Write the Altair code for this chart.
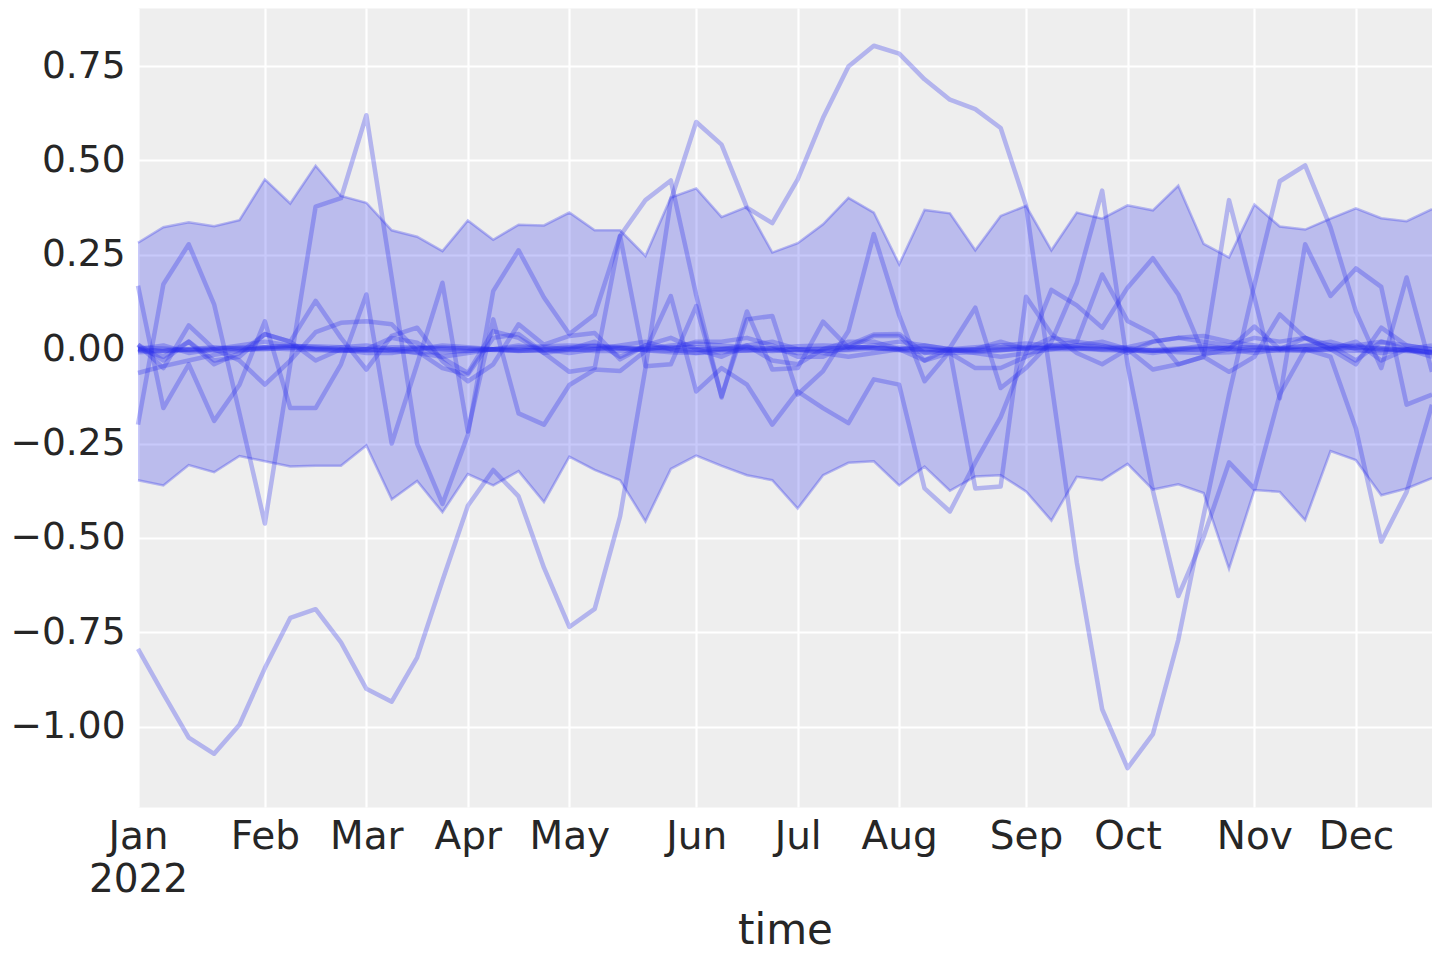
import altair as alt
import pandas as pd

# weekly time axis (Monday-stamped weeks of 2022)
WEEK_START = "2022-01-03"
N_WEEKS = 52
dates = pd.date_range(WEEK_START, periods=N_WEEKS, freq="W-MON")
DATE_STR = [d.strftime("%Y-%m-%d") for d in dates]

# HDI band
HDI_UPPER = [0.282, 0.323, 0.336, 0.326, 0.342, 0.450, 0.386, 0.486, 0.406, 0.388,
             0.315, 0.298, 0.260, 0.341, 0.290, 0.330, 0.328, 0.362, 0.315, 0.315,
             0.247, 0.402, 0.426, 0.350, 0.377, 0.256, 0.281, 0.331, 0.401, 0.362,
             0.225, 0.369, 0.360, 0.262, 0.353, 0.380, 0.262, 0.362, 0.346, 0.381,
             0.368, 0.433, 0.279, 0.243, 0.383, 0.325, 0.317, 0.346, 0.373, 0.347,
             0.339, 0.371]
HDI_LOWER = [-0.347, -0.361, -0.307, -0.326, -0.283, -0.297, -0.311, -0.309, -0.309, -0.255,
             -0.398, -0.349, -0.432, -0.331, -0.361, -0.323, -0.405, -0.285, -0.320, -0.347,
             -0.456, -0.317, -0.282, -0.309, -0.334, -0.347, -0.422, -0.334, -0.301, -0.297,
             -0.361, -0.311, -0.375, -0.337, -0.334, -0.377, -0.454, -0.338, -0.347, -0.304,
             -0.372, -0.358, -0.381, -0.582, -0.373, -0.378, -0.453, -0.270, -0.294, -0.387,
             -0.369, -0.342]

# sample lines
LINE_A = [-0.794, -0.913, -1.029, -1.072, -0.995, -0.845, -0.712, -0.689, -0.777, -0.90,
          -0.934, -0.817, -0.613, -0.415, -0.32, -0.39, -0.579, -0.736, -0.688, -0.443,
          -0.05, 0.394, 0.602, 0.542, 0.375, 0.334, 0.45, 0.613, 0.749, 0.804,
          0.783, 0.715, 0.661, 0.636, 0.586, 0.381, -0.09, -0.565, -0.954, -1.11,
          -1.02, -0.77, -0.44, -0.12, 0.17, 0.445, 0.487, 0.323, 0.10, -0.05,
          0.19, -0.06]
LINE_B = [-0.20, 0.172, 0.278, 0.119, -0.17, -0.462, -0.04, 0.378, 0.40, 0.62,
          0.19, -0.25, -0.41, -0.227, 0.154, 0.262, 0.137, 0.04, 0.092, 0.30,
          0.395, 0.447, 0.143, -0.128, 0.10, -0.054, -0.05, 0.073, 0.004, 0.035,
          0.035, -0.03, 0.004, 0.11, -0.103, -0.05, 0.02, 0.176, 0.42, -0.04,
          -0.375, -0.654, -0.497, -0.30, -0.37, -0.12, 0.0, -0.02, -0.21, -0.51,
          -0.378, -0.147]
LINE_C = [0.168, -0.156, -0.04, -0.19, -0.094, 0.074, -0.156, -0.156, -0.04, 0.145,
          -0.25, -0.04, 0.176, -0.218, 0.079, -0.17, -0.2, -0.095, -0.054, -0.058,
          -0.005, 0.141, -0.112, -0.05, -0.094, -0.2, -0.112, -0.156, -0.196, -0.08,
          -0.094, -0.369, -0.43, -0.30, -0.18, -0.01, 0.157, 0.116, 0.057, 0.163,
          0.241, 0.145, -0.014, 0.0, 0.06, 0.0, 0.03, 0.0, -0.04, 0.057,
          0.01, 0.0]
LINE_D = [0.012, -0.05, 0.063, 0.0, -0.03, -0.094, -0.03, 0.045, 0.07, 0.074,
          0.066, -0.005, -0.05, -0.067, 0.03, 0.04, -0.01, -0.06, -0.05, 0.30,
          -0.045, -0.04, 0.114, -0.125, 0.079, 0.088, -0.12, -0.058, 0.048, 0.305,
          0.09, -0.085, -0.005, -0.369, -0.364, 0.139, 0.04, -0.01, -0.04, 0.0,
          -0.054, -0.04, -0.02, -0.06, -0.02, 0.092, 0.03, 0.0, 0.02, -0.03,
          0.0, -0.01]
LINE_E = [0.0, -0.02, 0.02, -0.03, -0.02, 0.04, 0.02, 0.128, 0.03, -0.054,
          0.035, 0.057, -0.032, -0.085, -0.04, 0.066, 0.012, 0.035, 0.043, -0.027,
          0.01, 0.0, 0.02, 0.02, 0.03, 0.01, -0.02, -0.02, 0.01, 0.039,
          0.04, -0.01, 0.0, 0.0, 0.02, 0.0, 0.03, 0.02, 0.198, 0.075,
          0.04, -0.04, -0.02, 0.395, 0.137, -0.13, 0.278, 0.141, 0.214, 0.165,
          -0.147, -0.12]
LINE_F = [0.012, -0.03, 0.02, -0.04, -0.01, 0.04, 0.02, -0.03, 0.0, 0.0,
          0.03, 0.017, -0.023, -0.063, 0.048, 0.03, -0.01, 0.0, 0.02, -0.02,
          0.01, 0.03, 0.0, -0.02, 0.01, -0.03, -0.04, 0.0, 0.02, 0.02,
          0.0, -0.03, -0.01, -0.05, -0.05, -0.02, 0.01, 0.02, 0.01, -0.01,
          0.02, 0.03, 0.02, 0.01, 0.03, 0.02, 0.03, 0.01, -0.03, 0.02,
          0.0, 0.01]
LINE_G = [-0.063, -0.045, -0.03, -0.015, -0.005, 0.005, 0.01, 0.005, 0.0, -0.01,
          -0.01, 0.0, 0.01, 0.005, 0.0, -0.005, 0.0, 0.005, 0.01, 0.005,
          0.0, 0.01, 0.015, 0.01, 0.005, 0.0, -0.01, -0.005, 0.0, 0.01,
          0.02, 0.01, 0.0, 0.005, 0.01, 0.015, 0.01, 0.005, 0.0, 0.005,
          0.02, 0.03, 0.035, 0.02, 0.01, 0.0, 0.0, 0.005, 0.01, 0.02,
          0.01, 0.0]
LINE_H = [0.0, 0.01, -0.01, 0.0, 0.01, 0.02, 0.01, 0.0, 0.005, 0.01,
          0.0, -0.01, -0.02, -0.01, 0.0, 0.01, 0.0, -0.01, 0.0, 0.01,
          0.02, 0.0, -0.01, 0.0, 0.01, 0.02, 0.0, -0.01, -0.02, -0.01,
          0.0, 0.01, 0.0, -0.01, -0.02, -0.01, 0.0, 0.01, 0.02, 0.0,
          -0.01, 0.0, 0.01, 0.0, -0.01, 0.0, 0.01, 0.02, 0.0, -0.01,
          0.0, -0.02]
LINE_I = [0.0, -0.005, 0.0, 0.005, 0.0, 0.0, 0.005, 0.0, -0.005, 0.0,
          0.005, 0.005, 0.0, -0.005, 0.0, 0.0, 0.005, 0.0, -0.005, -0.005,
          0.0, 0.005, 0.005, 0.0, 0.0, -0.005, 0.0, 0.0, 0.005, 0.005,
          0.0, 0.0, -0.005, 0.0, 0.005, 0.005, 0.0, 0.0, 0.005, 0.0,
          -0.005, 0.0, 0.0, 0.005, 0.005, 0.0, -0.005, 0.0, 0.005, 0.0,
          -0.005, -0.01]
LINE_J = [-0.008, -0.005, -0.003, 0.0, 0.003, 0.005, 0.008, 0.008, 0.005, 0.0,
          -0.005, -0.008, -0.008, -0.005, 0.0, 0.005, 0.008, 0.01, 0.008, 0.003,
          -0.003, -0.008, -0.01, -0.008, -0.003, 0.003, 0.008, 0.01, 0.008, 0.003,
          -0.003, -0.008, -0.01, -0.008, -0.003, 0.003, 0.008, 0.01, 0.008, 0.003,
          -0.003, -0.008, -0.01, -0.008, -0.003, 0.003, 0.008, 0.01, 0.008, 0.003,
          -0.003, -0.008]
LINE_K = [-0.004, -0.003, 0.0, 0.002, 0.004, 0.003, 0.0, -0.003, -0.004, -0.002,
          0.0, 0.003, 0.004, 0.002, 0.0, -0.003, -0.004, -0.002, 0.0, 0.002,
          0.004, 0.003, 0.0, -0.002, -0.004, -0.003, 0.0, 0.002, 0.004, 0.003,
          0.0, -0.002, -0.004, -0.003, 0.0, 0.002, 0.004, 0.003, 0.0, -0.002,
          -0.004, -0.003, 0.0, 0.002, 0.004, 0.003, 0.0, -0.002, -0.004, -0.003,
          0.0, -0.006]
LINE_L = [0.004, 0.002, -0.002, -0.004, -0.002, 0.002, 0.004, 0.002, -0.002, -0.004,
          -0.002, 0.002, 0.004, 0.002, -0.002, -0.004, -0.002, 0.002, 0.004, 0.002,
          -0.002, -0.004, -0.002, 0.002, 0.004, 0.002, -0.002, -0.004, -0.002, 0.002,
          0.004, 0.002, -0.002, -0.004, -0.002, 0.002, 0.004, 0.002, -0.002, -0.004,
          -0.002, 0.002, 0.004, 0.002, -0.002, -0.004, -0.002, 0.002, 0.004, 0.002,
          -0.002, -0.008]

LINES = {"a": LINE_A, "b": LINE_B, "c": LINE_C, "d": LINE_D, "e": LINE_E,
         "f": LINE_F, "g": LINE_G, "h": LINE_H, "i": LINE_I, "j": LINE_J,
         "k": LINE_K, "l": LINE_L}

Y_TICKS = [-1.0, -0.75, -0.5, -0.25, 0.0, 0.25, 0.5, 0.75]
Y_DOMAIN = [-1.213, 0.904]

for name, vals in LINES.items():
    assert len(vals) == N_WEEKS, name
assert len(HDI_UPPER) == N_WEEKS and len(HDI_LOWER) == N_WEEKS

COLOR = "#2a2eec"
TEXT = "#262626"
FONT = "DejaVu Sans"

band_df = pd.DataFrame({"date": DATE_STR, "lower": HDI_LOWER, "upper": HDI_UPPER})
rows = []
for name, vals in LINES.items():
    for d, v in zip(DATE_STR, vals):
        rows.append({"date": d, "series": name, "value": v})
lines_df = pd.DataFrame(rows)


def to_ms(ts):
    return int(pd.Timestamp(ts).tz_localize("UTC").timestamp() * 1000)


tick_ms = [to_ms(d) for i, d in enumerate(dates) if i == 0 or d.month != dates[i - 1].month]
x_domain = [to_ms(dates[0]), to_ms(dates[-1])]

label_expr = ("utcmonth(datum.value) == 0 ? [utcFormat(datum.value, '%b'), utcFormat(datum.value, '%Y')]"
              " : utcFormat(datum.value, '%b')")

x_enc = alt.X(
    "date:T",
    scale=alt.Scale(type="utc", domain=x_domain, nice=False),
    axis=alt.Axis(
        values=tick_ms, labelExpr=label_expr, title="time",
        labelPadding=10, labelLineHeight=43, labelFlush=False, labelOverlap=False,
        labelFontSize=39,
        titleY=136, titleBaseline="alphabetic", titleFontSize=42,
    ),
)
y_scale = alt.Scale(domain=Y_DOMAIN, nice=False, zero=False)
y_axis = alt.Axis(values=Y_TICKS, format=".2f", title="", labelPadding=13,
                  labelFlush=False, labelFontSize=37.5)

band = alt.Chart(band_df).mark_area(color=COLOR, opacity=0.26).encode(
    x=x_enc,
    y=alt.Y("lower:Q", scale=y_scale, axis=y_axis),
    y2="upper:Q",
)
band_hi = alt.Chart(band_df).mark_line(color=COLOR, opacity=0.3, strokeWidth=2.5).encode(
    x=x_enc, y=alt.Y("upper:Q", scale=y_scale, axis=y_axis)
)
band_lo = alt.Chart(band_df).mark_line(color=COLOR, opacity=0.3, strokeWidth=2.5).encode(
    x=x_enc, y=alt.Y("lower:Q", scale=y_scale, axis=y_axis)
)
samples = alt.Chart(lines_df).mark_line(color=COLOR, opacity=0.3, strokeWidth=4.5, strokeJoin="round").encode(
    x=x_enc,
    y=alt.Y("value:Q", scale=y_scale, axis=y_axis),
    detail="series:N",
)

chart = alt.layer(band, band_hi, band_lo, samples).properties(
    width=1294,
    height=799,
    autosize=alt.AutoSizeParams(type="none"),
    padding={"left": 130, "top": 0, "right": 0, "bottom": 145},
    background="#ffffff",
).configure_view(
    fill="#eeeeee", stroke="transparent"
).configure_axis(
    grid=True, gridColor="#ffffff", gridWidth=2.2, gridOpacity=1,
    domain=False, ticks=False,
    labelFont=FONT, labelColor=TEXT,
    titleFont=FONT, titleFontWeight="normal", titleColor=TEXT,
)

chart.save("out.html", embed_options={"renderer": "svg", "actions": False})
